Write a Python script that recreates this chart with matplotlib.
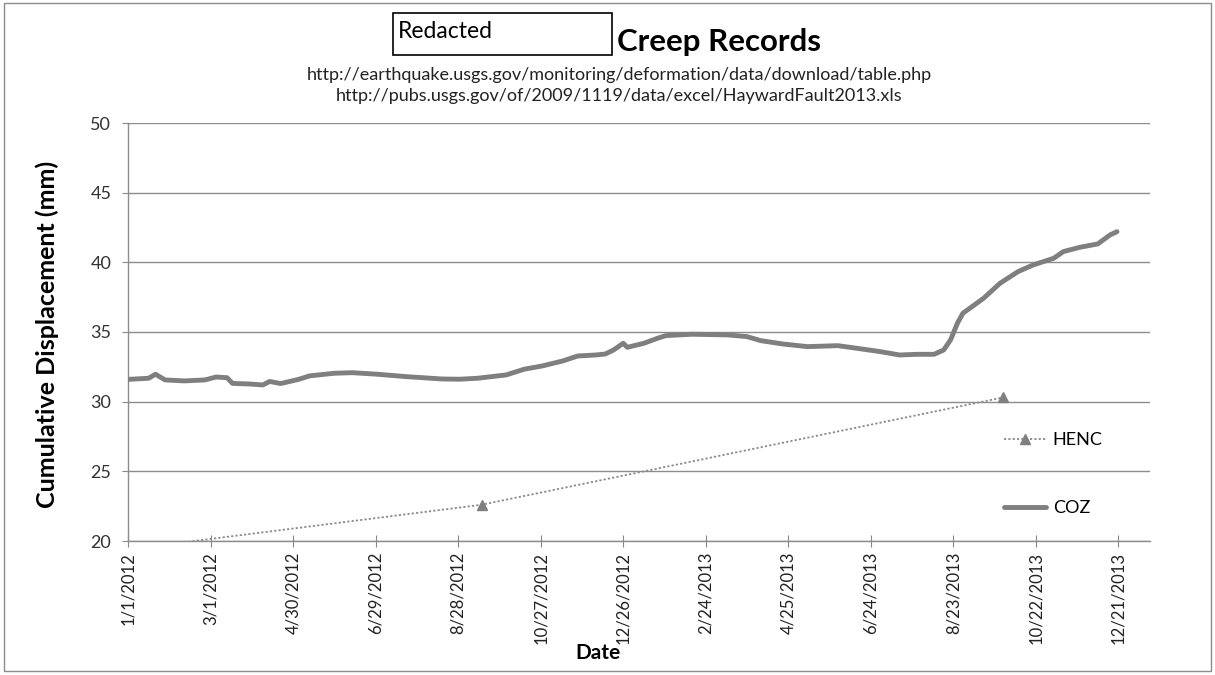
import matplotlib
matplotlib.use("Agg")
import matplotlib.pyplot as plt
from matplotlib.patches import Rectangle
import pandas as pd

plt.rcParams['font.family'] = ['Lato', 'DejaVu Sans']

# ---------------- data ----------------
coz_dates = [
    "2012-01-01", "2012-01-16", "2012-01-21", "2012-01-28", "2012-02-11", "2012-02-26",
    "2012-03-05", "2012-03-13", "2012-03-17", "2012-03-29", "2012-04-08", "2012-04-13",
    "2012-04-21", "2012-05-04", "2012-05-12", "2012-05-30", "2012-06-12", "2012-06-30",
    "2012-07-21", "2012-08-16", "2012-08-29", "2012-09-11", "2012-10-02", "2012-10-15",
    "2012-10-28", "2012-11-12", "2012-11-23", "2012-12-06", "2012-12-13", "2012-12-19",
    "2012-12-26", "2012-12-29", "2013-01-10", "2013-01-20", "2013-01-26", "2013-02-14",
    "2013-03-12", "2013-03-26", "2013-04-05", "2013-04-21", "2013-05-09", "2013-05-31",
    "2013-06-14", "2013-07-01", "2013-07-15", "2013-07-28", "2013-08-09", "2013-08-16",
    "2013-08-21", "2013-08-26", "2013-08-30", "2013-09-14", "2013-09-26", "2013-10-09",
    "2013-10-20", "2013-11-04", "2013-11-11", "2013-11-23", "2013-12-06", "2013-12-15",
    "2013-12-20",
]
coz_values = [
    31.60, 31.68, 31.97, 31.56, 31.49, 31.56,
    31.77, 31.72, 31.31, 31.27, 31.20, 31.45,
    31.30, 31.60, 31.85, 32.04, 32.08, 31.97,
    31.80, 31.63, 31.61, 31.68, 31.92, 32.33,
    32.56, 32.92, 33.28, 33.35, 33.42, 33.71,
    34.19, 33.90, 34.19, 34.55, 34.74, 34.84,
    34.79, 34.67, 34.38, 34.14, 33.95, 34.02,
    33.83, 33.59, 33.35, 33.40, 33.40, 33.71,
    34.43, 35.63, 36.35, 37.42, 38.50, 39.33,
    39.81, 40.29, 40.77, 41.08, 41.32, 41.97,
    42.20,
]

henc_dates = ["2012-01-01", "2012-09-14", "2013-09-28"]
henc_values = [19.40, 22.60, 30.30]

series_labels = ["HENC", "COZ"]

x_tick_labels = ["1/1/2012", "3/1/2012", "4/30/2012", "6/29/2012", "8/28/2012",
                 "10/27/2012", "12/26/2012", "2/24/2013", "4/25/2013", "6/24/2013",
                 "8/23/2013", "10/22/2013", "12/21/2013"]
y_ticks = [20, 25, 30, 35, 40, 45, 50]

title_text = "Creep Records"
redacted_text = "Redacted"
subtitle_lines = [
    "http://earthquake.usgs.gov/monitoring/deformation/data/download/table.php",
    "http://pubs.usgs.gov/of/2009/1119/data/excel/HaywardFault2013.xls",
]
x_label = "Date"
y_label = "Cumulative Displacement (mm)"

# ---------------- figure ----------------
W, H = 1215, 675
fig = plt.figure(figsize=(W / 100, H / 100), dpi=100)
fig.patch.set_facecolor("white")

def fx(px):
    return px / W

def fy(py):
    return 1 - py / H

L, R, T, B = 128, 1150, 123, 541
ax = fig.add_axes([fx(L), fy(B), fx(R) - fx(L), fy(T) - fy(B)])

coz_x = pd.to_datetime(coz_dates)
henc_x = pd.to_datetime(henc_dates)
tick_x = pd.to_datetime(x_tick_labels, format="%m/%d/%Y")

gray = "#7f7f7f"
ax.plot(henc_x, henc_values, color="#8a8a8a", linestyle=(0, (1.2, 1.2)), linewidth=1.3,
        marker="^", markersize=7, markerfacecolor="#808080", markeredgecolor="#808080",
        label=series_labels[0], zorder=3)
ax.plot(coz_x, coz_values, color=gray, linewidth=3.5, solid_capstyle="round",
        label=series_labels[1], zorder=4)

ax.set_xlim(pd.Timestamp("2012-01-01"), pd.Timestamp("2014-01-13"))
ax.set_ylim(20, 50)
ax.set_yticks(y_ticks)
ax.set_xticks(tick_x)
ax.set_xticklabels(x_tick_labels, rotation=90, fontsize=12, color="#222222")
ax.tick_params(axis="y", labelsize=13, labelcolor="#333333", length=4, color="#888888",
               direction="out", pad=8)
ax.tick_params(axis="x", length=8, color="#888888", direction="inout", pad=4)

ax.grid(axis="y", color="#8c8c8c", linewidth=1.0)
ax.set_axisbelow(True)
for side in ["top", "right"]:
    ax.spines[side].set_visible(False)
for side in ["left", "bottom"]:
    ax.spines[side].set_color("#8c8c8c")
    ax.spines[side].set_linewidth(1.0)

fig.text(fx(598), fy(653), x_label, fontsize=15, fontweight="bold", ha="center", va="center")
fig.text(fx(47), fy(334), y_label, fontsize=18, fontweight="bold", rotation=90,
         ha="center", va="center")

leg = ax.legend(loc="upper left", bbox_to_anchor=(fx(995), fy(423)),
                bbox_transform=fig.transFigure, frameon=False, fontsize=13,
                handlelength=2.3, handletextpad=0.4, labelspacing=2.9, borderpad=0)

# titles
fig.patches.append(Rectangle((fx(393), fy(55)), fx(612) - fx(393), fy(13) - fy(55),
                             transform=fig.transFigure, fill=False, edgecolor="black",
                             linewidth=1.2))
fig.text(fx(398), fy(31), redacted_text, fontsize=16.5, va="center", ha="left")
fig.text(fx(617), fy(42), title_text, fontsize=22.5, fontweight="bold", va="center", ha="left")
fig.text(fx(619), fy(75), subtitle_lines[0], fontsize=13, ha="center", va="center",
         color="#222222")
fig.text(fx(619), fy(96), subtitle_lines[1], fontsize=13, ha="center", va="center",
         color="#222222")

# outer chart border
fig.patches.append(Rectangle((fx(4), fy(671)), fx(1211) - fx(4), fy(3) - fy(671),
                             transform=fig.transFigure, fill=False, edgecolor="#8c8c8c",
                             linewidth=1.0))

fig.savefig("out.png", dpi=100)
